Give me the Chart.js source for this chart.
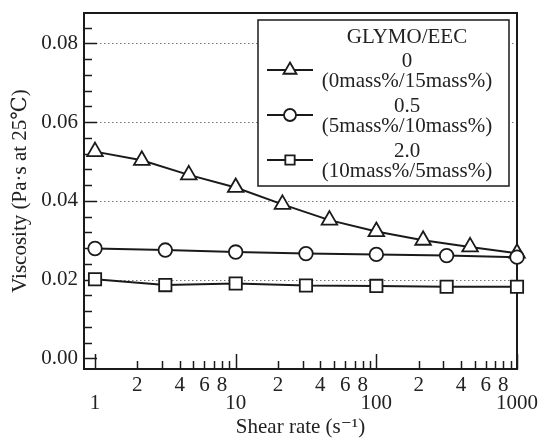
<!DOCTYPE html>
<html>
<head>
<meta charset="utf-8">
<title>Viscosity vs shear rate</title>
<script src="https://cdn.jsdelivr.net/npm/chart.js@4.4.0/dist/chart.umd.min.js"></script>
<style>
  html, body { margin: 0; padding: 0; background: #fff; }
  #wrap { width: 538px; height: 441px; }
</style>
</head>
<body>
<div id="wrap"><canvas id="viscChart" width="538" height="441"></canvas></div>
<script>
// GLYMO/EEC = 0
const triShear = [1, 2.15, 4.64, 10, 21.5, 46.4, 100, 215, 464, 1000];
const triVisc = [0.0525, 0.0503, 0.0466, 0.0434, 0.0391, 0.0351, 0.0322, 0.0300, 0.0283, 0.0267];
// GLYMO/EEC = 0.5
const cirShear = [1, 3.16, 10, 31.6, 100, 316, 1000];
const cirVisc = [0.0279, 0.0275, 0.0270, 0.0266, 0.0264, 0.0261, 0.0257];
// GLYMO/EEC = 2.0
const sqShear = [1, 3.16, 10, 31.6, 100, 316, 1000];
const sqVisc = [0.0201, 0.0186, 0.0190, 0.0185, 0.0184, 0.0182, 0.0182];

const seriesRatio = ['0', '0.5', '2.0'];
const seriesMass = ['(0mass%/15mass%)', '(5mass%/10mass%)', '(10mass%/5mass%)'];
const seriesStyle = ['triangle', 'circle', 'rect'];

const xMajorLabels = [1, 10, 100, 1000];
const xMinorLabels = [2, 4, 6, 8];
const yTickValues = [0, 0.02, 0.04, 0.06, 0.08];
const yGridValues = [0.02, 0.04, 0.06, 0.08];

const FONT = '"Liberation Serif", "DejaVu Serif", serif';
const INK = '#1a1a1a';

Chart.defaults.font.family = FONT;
Chart.defaults.color = '#222';

function toPoints(xs, ys) {
    return xs.map((x, i) => ({ x: x, y: ys[i] }));
}

// every 1..9 multiple of each decade gets a tick mark
function xTickMarks() {
    const marks = [];
    for (let d = 0; d < xMajorLabels.length - 1; d++) {
        for (let m = 1; m <= 9; m++) marks.push(m * xMajorLabels[d]);
    }
    marks.push(xMajorLabels[xMajorLabels.length - 1]);
    return marks;
}

function leadDigit(v) {
    const p = Math.pow(10, Math.floor(Math.log10(v) + 1e-9));
    return Math.round(v / p);
}

function line(ctx, x1, y1, x2, y2) {
    ctx.beginPath();
    ctx.moveTo(x1, y1);
    ctx.lineTo(x2, y2);
    ctx.stroke();
}

const framePlugin = {
    id: 'frame',
    beforeDatasetsDraw(chart) {
        const { ctx, chartArea: a, scales: { x, y } } = chart;
        ctx.save();

        // dotted gridlines
        ctx.strokeStyle = '#777';
        ctx.lineWidth = 1;
        ctx.setLineDash([1.5, 2.5]);
        yGridValues.forEach(v => {
            const py = Math.round(y.getPixelForValue(v)) + 0.5;
            line(ctx, a.left, py, a.right, py);
        });
        ctx.setLineDash([]);

        // inward ticks
        ctx.strokeStyle = INK;
        ctx.lineWidth = 1.5;
        xTickMarks().forEach(v => {
            const px = Math.round(x.getPixelForValue(v)) + 0.5;
            const len = xMajorLabels.includes(v) ? 15 : 8;
            line(ctx, px, a.bottom, px, a.bottom - len);
        });
        for (let v = 0; v <= y.max + 1e-9; v += 0.004) {
            const py = Math.round(y.getPixelForValue(v)) + 0.5;
            const major = Math.abs(v / 0.02 - Math.round(v / 0.02)) < 1e-6;
            line(ctx, a.left, py, a.left + (major ? 13 : 8), py);
        }

        ctx.lineWidth = 2;
        ctx.strokeRect(a.left, a.top, a.right - a.left, a.bottom - a.top);
        ctx.restore();
    },
    afterDatasetsDraw(chart) {
        const { ctx, chartArea: a } = chart;
        const box = { left: a.right - 259, top: a.top + 7, width: 251, height: 166 };
        ctx.save();
        ctx.fillStyle = '#fff';
        ctx.fillRect(box.left, box.top, box.width, box.height);
        ctx.strokeStyle = INK;
        ctx.lineWidth = 1.5;
        ctx.strokeRect(box.left, box.top, box.width, box.height);

        const cx = box.left + 149;
        ctx.fillStyle = '#222';
        ctx.font = '21px ' + FONT;
        ctx.textAlign = 'center';
        ctx.textBaseline = 'middle';
        ctx.fillText('GLYMO/EEC', cx, box.top + 17);

        const legendRadius = [7.5, 6, 6.6];
        seriesStyle.forEach((style, i) => {
            const ly = box.top + 50 + i * 45;
            ctx.strokeStyle = INK;
            ctx.lineWidth = 2;
            line(ctx, box.left + 9, ly, box.left + 55, ly);
            ctx.fillStyle = '#fff';
            ctx.lineWidth = 1.8;
            Chart.helpers.drawPoint(ctx, {
                pointStyle: style, rotation: 0,
                radius: legendRadius[i], borderWidth: 1.8
            }, box.left + 32, ly);
            ctx.fillStyle = '#222';
            ctx.fillText(seriesRatio[i], cx, ly - 9);
            ctx.fillText(seriesMass[i], cx, ly + 11);
        });
        ctx.restore();
    }
};

function makeDataset(xs, ys, i, radius) {
    return {
        label: seriesRatio[i],
        data: toPoints(xs, ys),
        borderColor: INK,
        borderWidth: 2,
        pointStyle: seriesStyle[i],
        pointRadius: radius,
        pointBorderWidth: 1.8,
        pointBackgroundColor: '#fff',
        pointBorderColor: INK,
        tension: 0,
        clip: false
    };
}

new Chart(document.getElementById('viscChart'), {
    type: 'line',
    data: {
        datasets: [
            makeDataset(sqShear, sqVisc, 2, 8.7),
            makeDataset(cirShear, cirVisc, 1, 6.8),
            makeDataset(triShear, triVisc, 0, 9)
        ]
    },
    options: {
        responsive: false,
        animation: false,
        layout: { padding: { top: 13, right: 21, left: 0, bottom: 0 } },
        plugins: { legend: { display: false }, tooltip: { enabled: false } },
        scales: {
            x: {
                type: 'logarithmic',
                min: 0.835,
                max: 1000,
                grid: { display: false },
                border: { display: false },
                afterBuildTicks: function (scale) {
                    scale.ticks = xTickMarks().map(v => ({ value: v }));
                },
                afterFit: function (scale) {
                    scale.height = 72;
                    scale.paddingLeft = 0;
                    scale.paddingRight = 0;
                },
                ticks: {
                    autoSkip: false,
                    maxRotation: 0,
                    minRotation: 0,
                    padding: -1,
                    font: { size: 21, lineHeight: 0.88 },
                    callback: function (value) {
                        if (xMajorLabels.includes(value)) return ['', String(value)];
                        const d = leadDigit(value);
                        return xMinorLabels.includes(d) ? String(d) : '';
                    }
                },
                title: {
                    display: true,
                    text: 'Shear rate (s\u207B\u00B9)',
                    font: { size: 21 },
                    padding: { top: 0, bottom: 1 }
                }
            },
            y: {
                min: -0.0027,
                max: 0.0877,
                grid: { display: false, drawTicks: false },
                border: { display: false },
                afterBuildTicks: function (scale) {
                    scale.ticks = yTickValues.map(v => ({ value: v }));
                },
                afterFit: function (scale) {
                    scale.width = 84;
                    scale.paddingTop = 0;
                    scale.paddingBottom = 0;
                },
                ticks: {
                    padding: 6,
                    font: { size: 21 },
                    callback: function (value) { return value.toFixed(2); }
                },
                title: {
                    display: true,
                    text: 'Viscosity (Pa\u00B7s at 25\u2103)',
                    font: { size: 21 },
                    padding: { top: 8, bottom: 0 }
                }
            }
        }
    },
    plugins: [framePlugin]
});
</script>
</body>
</html>
